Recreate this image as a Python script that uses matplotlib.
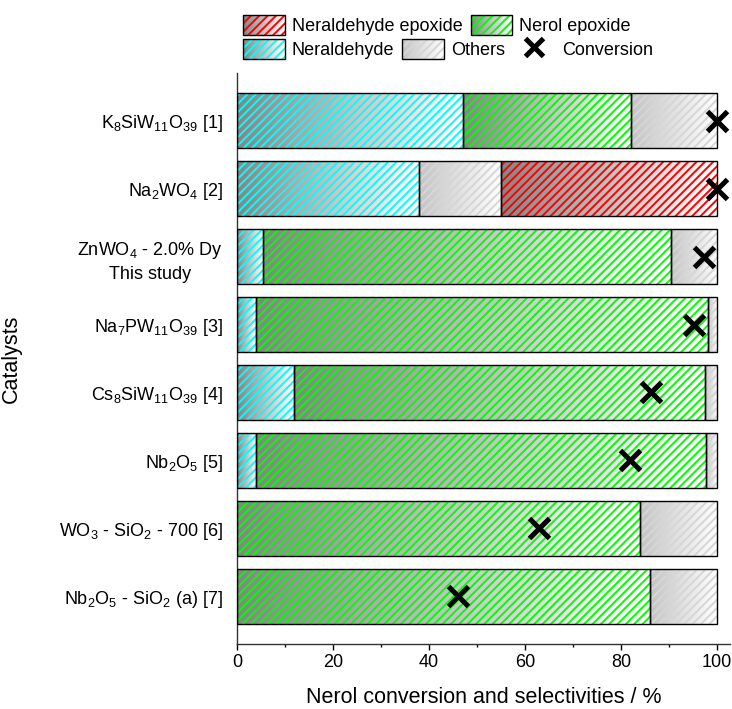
import numpy as np
import matplotlib
matplotlib.use("Agg")
import matplotlib.pyplot as plt
from matplotlib.colors import LinearSegmentedColormap, to_rgb
from matplotlib.patches import Rectangle
from matplotlib.lines import Line2D
from matplotlib.legend_handler import HandlerBase

plt.rcParams['font.family'] = ['Liberation Sans', 'DejaVu Sans']
plt.rcParams['mathtext.fontset'] = 'custom'
plt.rcParams['mathtext.rm'] = 'Liberation Sans'
plt.rcParams['mathtext.it'] = 'Liberation Sans:italic'
plt.rcParams['mathtext.default'] = 'regular'
plt.rcParams['hatch.linewidth'] = 1.4

# ---------------- data ----------------
catalysts = [
    r'K$_8$SiW$_{11}$O$_{39}$ [1]',
    r'Na$_2$WO$_4$ [2]',
    'ZnWO$_4$ - 2.0% Dy\nThis study',
    r'Na$_7$PW$_{11}$O$_{39}$ [3]',
    r'Cs$_8$SiW$_{11}$O$_{39}$ [4]',
    r'Nb$_2$O$_5$ [5]',
    r'WO$_3$ - SiO$_2$ - 700 [6]',
    r'Nb$_2$O$_5$ - SiO$_2$ (a) [7]',
]
neraldehyde = [47.0, 38.0, 5.4, 3.9, 11.9, 4.0, 0.0, 0.0]
nerol_epoxide = [35.1, 0.0, 85.0, 94.3, 85.5, 93.8, 84.0, 86.1]
others = [17.9, 16.9, 9.6, 1.8, 2.6, 2.2, 16.0, 13.9]
neraldehyde_epoxide = [0.0, 45.1, 0.0, 0.0, 0.0, 0.0, 0.0, 0.0]
conversion = [100.0, 100.0, 97.3, 95.1, 86.2, 81.8, 63.0, 46.1]
xticks = [0, 20, 40, 60, 80, 100]

series = [
    # name, values, gradient start, hatch colour
    ('Neraldehyde', neraldehyde, '#858585', '#00FFFF'),
    ('Nerol epoxide', nerol_epoxide, '#858585', '#00FF00'),
    ('Others', others, '#C4C4C4', '#D6D6D6'),
    ('Neraldehyde epoxide', neraldehyde_epoxide, '#858585', '#FF0000'),
]

W, H = 732, 709
fig = plt.figure(figsize=(W / 100, H / 100), dpi=100)
ax = fig.add_axes([237 / W, 1 - 644 / H, 493 / W, (644 - 73) / H])

y = np.arange(len(catalysts))
bar_h = 0.8
left = np.zeros(len(catalysts))
for name, vals, c0, hc in series:
    vals = np.asarray(vals)
    cmap = LinearSegmentedColormap.from_list(name, [c0, '#FFFFFF'])
    for i, v in enumerate(vals):
        if v <= 0:
            continue
        grad = np.linspace(0, 1, 256).reshape(1, -1)
        ax.imshow(grad, extent=(left[i], left[i] + v, y[i] - bar_h / 2, y[i] + bar_h / 2),
                  aspect='auto', cmap=cmap, interpolation='bilinear', zorder=1)
    mask = vals > 0
    ax.barh(y[mask], vals[mask], left=left[mask], height=bar_h, facecolor='none',
            edgecolor=hc, linewidth=0, hatch='////', zorder=2)
    ax.barh(y[mask], vals[mask], left=left[mask], height=bar_h, facecolor='none',
            edgecolor='black', linewidth=1.0, zorder=3)
    left += vals

ax.plot(conversion, y, linestyle='none', marker='x', color='black', ms=14, mew=3.6,
        zorder=5, clip_on=False)

ax.set_xlim(0, 102.7)
ax.set_ylim(len(catalysts) - 1 + 0.7, -0.7)
ax.set_xticks(xticks)
ax.set_xticks(np.arange(10, 100, 20), minor=True)
ax.set_yticks(y)
ax.set_yticklabels(catalysts, fontsize=13)
for t in ax.get_yticklabels():
    t.set_multialignment('center')
    t.set_linespacing(1.45)
ax.tick_params(axis='y', length=0, pad=10)
ax.tick_params(axis='x', which='major', length=4, width=1, labelsize=13, pad=3)
ax.tick_params(axis='x', which='minor', length=2.5, width=1)
for s in ['top', 'right']:
    ax.spines[s].set_visible(False)
for s in ['left', 'bottom']:
    ax.spines[s].set_linewidth(1.0)
    ax.spines[s].set_color('#333333')

ax.set_xlabel('Nerol conversion and selectivities / %', fontsize=15.5, labelpad=12)
ax.set_ylabel('Catalysts', fontsize=15.5)
ax.yaxis.set_label_coords(-0.436, 0.5)


class GradHandler(HandlerBase):
    def __init__(self, c0, hc):
        super().__init__()
        self.c0 = np.array(to_rgb(c0))
        self.hc = hc

    def create_artists(self, legend, orig_handle, xdescent, ydescent, width, height,
                       fontsize, trans):
        arts = []
        n = 40
        x0, y0 = -xdescent, -ydescent
        for k in range(n):
            f = k / (n - 1)
            col = self.c0 * (1 - f) + np.ones(3) * f
            arts.append(Rectangle((x0 + width * k / n, y0), width / n * 1.05, height,
                                  facecolor=col, edgecolor='none', transform=trans))
        arts.append(Rectangle((x0, y0), width, height, facecolor='none', edgecolor=self.hc,
                              linewidth=0, hatch='////', transform=trans))
        arts.append(Rectangle((x0, y0), width, height, facecolor='none', edgecolor='black',
                              linewidth=1.0, transform=trans))
        return arts


handles = {}
hmap = {}
for name, vals, c0, hc in series:
    r = Rectangle((0, 0), 1, 1)
    handles[name] = r
    hmap[r] = GradHandler(c0, hc)
conv_h = Line2D([], [], linestyle='none', marker='x', color='black', ms=13, mew=3.6)

common = dict(frameon=False, fontsize=13, handlelength=2.3, handleheight=1.35,
              handletextpad=0.4, columnspacing=0.45, borderpad=0, borderaxespad=0,
              loc='upper left', handler_map=hmap)
leg1 = fig.legend([handles['Neraldehyde epoxide'], handles['Nerol epoxide']],
                  ['Neraldehyde epoxide', 'Nerol epoxide'], ncol=2,
                  bbox_to_anchor=(243 / W, 1 - 15 / H), **common)
leg2 = fig.legend([handles['Neraldehyde'], handles['Others'], conv_h],
                  ['Neraldehyde', 'Others', 'Conversion'], ncol=3,
                  bbox_to_anchor=(243 / W, 1 - 39 / H), **common)

fig.savefig('out.png', dpi=100)
